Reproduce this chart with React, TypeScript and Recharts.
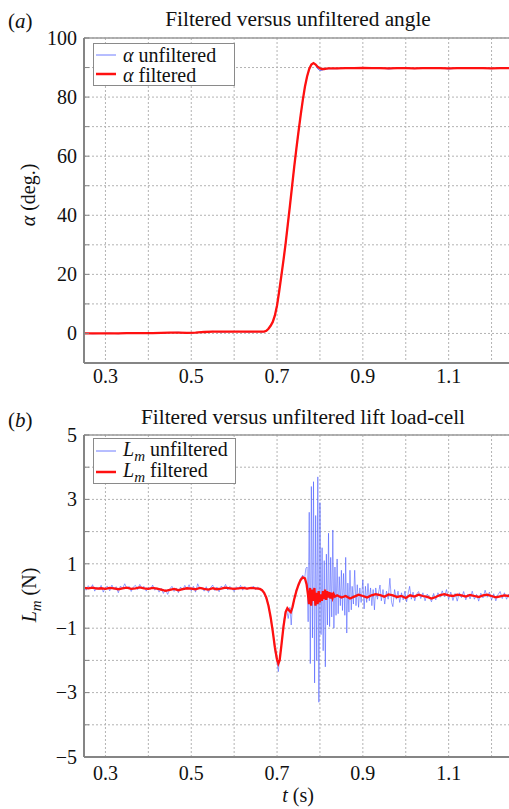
import React from "react";
import { LineChart, Line, XAxis, YAxis, CartesianGrid, ReferenceLine } from "recharts";

// ---------- data: (t [s], value) ----------
const angleUnfiltered: [number, number][] = [
  [0.25, 0.1], [0.27, -0.1], [0.29, 0.0], [0.31, 0.1], [0.33, -0.1], [0.35, 0.2], [0.37, 0.0], [0.39, 0.1],
  [0.41, 0.2], [0.43, 0.1], [0.45, 0.3], [0.47, 0.4], [0.49, 0.2], [0.51, 0.3], [0.53, 0.5], [0.55, 0.7],
  [0.57, 0.5], [0.59, 0.6], [0.61, 0.7], [0.63, 0.5], [0.65, 0.6],
  [0.66, 0.6], [0.665, 0.5], [0.67, 0.6], [0.675, 0.8], [0.68, 1.5], [0.685, 2.7], [0.69, 3.8], [0.695, 6.2],
  [0.7, 9.4], [0.705, 14.4], [0.71, 19.4], [0.715, 24.9], [0.72, 30.4], [0.725, 36.9], [0.73, 43.1], [0.735, 49.9],
  [0.74, 56.3], [0.745, 62.6], [0.75, 68.2], [0.755, 73.9], [0.76, 78.9], [0.765, 83.6], [0.77, 86.9], [0.775, 89.4],
  [0.78, 91.1], [0.785, 91.6], [0.79, 90.7], [0.795, 89.5], [0.8, 89.0], [0.805, 89.1], [0.81, 89.4], [0.815, 89.5],
  [0.82, 89.6],
  [0.84, 89.6], [0.86, 89.9], [0.88, 89.7], [0.9, 90.0], [0.92, 89.7], [0.94, 89.9], [0.96, 89.5], [0.98, 89.8],
  [1.0, 89.9], [1.02, 89.6], [1.04, 89.8], [1.06, 89.7], [1.08, 89.9], [1.1, 89.5], [1.12, 89.8], [1.14, 89.9],
  [1.16, 89.7], [1.18, 89.8], [1.2, 89.6], [1.22, 89.9], [1.24, 89.7], [1.25, 89.8],
];

const angleFiltered: [number, number][] = [
  [0.25, 0.0], [0.27, 0.0], [0.29, 0.0], [0.31, 0.0], [0.33, 0.0], [0.35, 0.1], [0.37, 0.1], [0.39, 0.1],
  [0.41, 0.1], [0.43, 0.2], [0.45, 0.3], [0.47, 0.3], [0.49, 0.2], [0.51, 0.3], [0.53, 0.5], [0.55, 0.6],
  [0.57, 0.6], [0.59, 0.6], [0.61, 0.6], [0.63, 0.6], [0.65, 0.6],
  [0.66, 0.6], [0.665, 0.6], [0.67, 0.6], [0.675, 0.9], [0.68, 1.6], [0.685, 2.6], [0.69, 3.9], [0.695, 6.1],
  [0.7, 9.5], [0.705, 14.3], [0.71, 19.5], [0.715, 24.8], [0.72, 30.5], [0.725, 36.8], [0.73, 43.2], [0.735, 49.8],
  [0.74, 56.4], [0.745, 62.5], [0.75, 68.3], [0.755, 73.8], [0.76, 79.0], [0.765, 83.5], [0.77, 87.0], [0.775, 89.5],
  [0.78, 91.0], [0.785, 91.5], [0.79, 91.0], [0.795, 90.2], [0.8, 89.7], [0.805, 89.5], [0.81, 89.5], [0.815, 89.6],
  [0.82, 89.7],
  [0.84, 89.7], [0.86, 89.8], [0.88, 89.8], [0.9, 89.9], [0.92, 89.8], [0.94, 89.8], [0.96, 89.7], [0.98, 89.8],
  [1.0, 89.8], [1.02, 89.7], [1.04, 89.8], [1.06, 89.8], [1.08, 89.8], [1.1, 89.7], [1.12, 89.8], [1.14, 89.8],
  [1.16, 89.8], [1.18, 89.8], [1.2, 89.7], [1.22, 89.8], [1.24, 89.8], [1.25, 89.8],
];

const liftUnfiltered: [number, number][] = [
  [0.25, 0.30], [0.255, 0.18], [0.26, 0.32], [0.265, 0.22], [0.27, 0.35], [0.275, 0.15], [0.28, 0.28], [0.285, 0.20],
  [0.29, 0.33], [0.295, 0.12], [0.3, 0.27], [0.305, 0.30], [0.31, 0.16], [0.315, 0.34], [0.32, 0.20], [0.325, 0.29],
  [0.33, 0.10], [0.335, 0.31], [0.34, 0.24], [0.345, 0.38], [0.35, 0.22], [0.355, 0.30], [0.36, 0.14], [0.365, 0.28],
  [0.37, 0.33], [0.375, 0.20], [0.38, 0.36], [0.385, 0.25], [0.39, 0.30], [0.395, 0.15], [0.4, 0.27], [0.405, 0.21],
  [0.41, 0.34], [0.415, 0.18], [0.42, 0.26], [0.425, 0.12], [0.43, 0.24], [0.435, 0.08], [0.44, 0.20], [0.445, 0.05],
  [0.45, 0.22], [0.455, 0.30], [0.46, 0.14], [0.465, 0.25], [0.47, 0.10], [0.475, 0.28], [0.48, 0.18], [0.485, 0.33],
  [0.49, 0.21], [0.495, 0.35], [0.5, 0.16], [0.505, 0.30], [0.51, 0.12], [0.515, 0.38], [0.52, 0.22], [0.525, 0.27],
  [0.53, 0.15], [0.535, 0.29], [0.54, 0.11], [0.545, 0.26], [0.55, 0.34], [0.555, 0.17], [0.56, 0.28], [0.565, 0.13],
  [0.57, 0.31], [0.575, 0.24], [0.58, 0.36], [0.585, 0.19], [0.59, 0.30], [0.595, 0.22], [0.6, 0.14], [0.605, 0.29],
  [0.61, 0.21], [0.615, 0.33], [0.62, 0.18], [0.625, 0.30], [0.63, 0.20], [0.635, 0.27], [0.64, 0.23], [0.645, 0.31],
  [0.65, 0.19], [0.655, 0.28], [0.66, 0.22],
  [0.665, 0.20], [0.67, 0.05], [0.675, -0.10], [0.68, -0.25], [0.685, -0.75], [0.69, -1.05], [0.695, -1.70],
  [0.7, -2.05], [0.703, -2.35], [0.706, -1.90], [0.71, -1.60], [0.715, -0.85], [0.718, -0.60], [0.722, -0.40],
  [0.726, -0.70], [0.73, -0.35], [0.733, -0.90], [0.736, -0.25], [0.74, -0.15], [0.745, 0.20], [0.75, 0.30],
  [0.755, 0.55], [0.76, 0.65], [0.764, 0.50], [0.767, 0.85],
  [0.77, 0.9], [0.7725, -0.8], [0.775, 2.6], [0.7775, -2.1], [0.78, 3.4], [0.7825, -1.3], [0.785, 3.55], [0.7875, -2.7],
  [0.79, 2.5], [0.7925, -2.0], [0.795, 3.7], [0.7975, -3.3], [0.8, 2.9], [0.8025, -1.2], [0.805, 1.5], [0.8075, -1.7],
  [0.81, 1.1], [0.8125, -2.2], [0.815, 1.3], [0.8175, -0.9], [0.82, 1.95], [0.8225, -0.95], [0.825, 1.2], [0.8275, -0.65],
  [0.83, 2.05], [0.8325, -1.0], [0.835, 0.9], [0.8375, -0.6], [0.84, 1.15], [0.8425, -0.55], [0.845, 0.6], [0.8475, -0.3],
  [0.85, 0.8], [0.8525, -0.45], [0.855, 0.7], [0.858, -0.6], [0.86, 1.2], [0.8625, -1.15], [0.865, 0.4], [0.8675, -0.5],
  [0.87, 0.8], [0.873, -0.43], [0.875, 0.3], [0.878, -0.25], [0.881, 0.8], [0.884, -0.3],
  [0.887, 0.35], [0.89, -0.35], [0.893, 0.25], [0.896, -0.2], [0.9, 0.5], [0.903, -0.4], [0.906, 0.3], [0.909, -0.2],
  [0.912, 0.39], [0.915, -0.15], [0.918, 0.25], [0.921, -0.3], [0.924, 0.2], [0.927, -0.43], [0.93, 0.25], [0.934, -0.1],
  [0.938, 0.2], [0.94, 0.34], [0.943, -0.15], [0.947, 0.2], [0.951, -0.25], [0.955, 0.15], [0.959, -0.1], [0.963, 0.55],
  [0.967, -0.2], [0.97, -0.33], [0.974, 0.2], [0.978, -0.1], [0.982, 0.15], [0.986, -0.2], [0.99, 0.1], [0.994, -0.12],
  [0.998, 0.15], [1.002, -0.18], [1.006, 0.1], [1.009, 0.3], [1.013, -0.1], [1.017, 0.12], [1.021, -0.15], [1.025, 0.05],
  [1.03, 0.14], [1.035, -0.08], [1.04, 0.10], [1.045, -0.15], [1.05, 0.06], [1.055, -0.05], [1.06, -0.18], [1.065, 0.08],
  [1.07, -0.12], [1.075, 0.10], [1.08, -0.04], [1.085, 0.16], [1.09, -0.02], [1.095, 0.20], [1.1, -0.10], [1.105, 0.12],
  [1.11, -0.14], [1.115, 0.08], [1.12, -0.16], [1.125, 0.10], [1.13, -0.05], [1.135, 0.14], [1.14, -0.12], [1.145, 0.06],
  [1.15, -0.09], [1.155, 0.15], [1.16, -0.10], [1.165, 0.05], [1.17, -0.16], [1.175, 0.09], [1.18, -0.06], [1.185, 0.18],
  [1.19, -0.04], [1.195, 0.12], [1.2, -0.12], [1.205, 0.07], [1.21, -0.15], [1.215, 0.04], [1.22, 0.14], [1.225, -0.08],
  [1.23, 0.10], [1.235, -0.10], [1.24, 0.06], [1.245, -0.05], [1.25, 0.08],
];

const liftFiltered: [number, number][] = [
  [0.25, 0.25], [0.26, 0.24], [0.27, 0.26], [0.28, 0.23], [0.29, 0.24], [0.3, 0.22], [0.31, 0.25], [0.32, 0.24],
  [0.33, 0.21], [0.34, 0.24], [0.35, 0.26], [0.36, 0.22], [0.37, 0.24], [0.38, 0.27], [0.39, 0.24], [0.4, 0.22],
  [0.41, 0.25], [0.42, 0.23], [0.43, 0.20], [0.44, 0.16], [0.45, 0.19], [0.46, 0.22], [0.47, 0.18], [0.48, 0.21],
  [0.49, 0.24], [0.5, 0.23], [0.51, 0.21], [0.52, 0.25], [0.53, 0.22], [0.54, 0.20], [0.55, 0.24], [0.56, 0.21],
  [0.57, 0.23], [0.58, 0.26], [0.59, 0.24], [0.6, 0.22], [0.61, 0.24], [0.62, 0.25], [0.63, 0.23], [0.64, 0.25],
  [0.65, 0.24], [0.66, 0.22],
  [0.665, 0.18], [0.67, 0.10], [0.675, -0.05], [0.68, -0.30], [0.685, -0.65], [0.69, -1.10], [0.695, -1.60],
  [0.7, -1.98], [0.703, -2.10], [0.706, -2.00], [0.71, -1.55], [0.715, -0.95], [0.72, -0.50], [0.724, -0.38],
  [0.728, -0.45], [0.732, -0.50], [0.736, -0.35], [0.74, -0.10], [0.745, 0.15], [0.75, 0.35], [0.755, 0.50],
  [0.76, 0.58], [0.765, 0.55], [0.769, 0.35], [0.772, 0.05],
  [0.7745, -0.25], [0.777, 0.25], [0.7795, -0.30], [0.782, 0.20], [0.7845, -0.15], [0.787, 0.25], [0.7895, -0.30],
  [0.792, 0.10], [0.7945, -0.25], [0.797, 0.15], [0.7995, -0.20], [0.802, 0.05], [0.8045, -0.15], [0.807, 0.15],
  [0.8095, -0.10], [0.812, 0.20], [0.8145, -0.12], [0.817, 0.15], [0.8195, -0.05], [0.822, 0.12], [0.8245, -0.08],
  [0.827, 0.10], [0.8295, -0.05], [0.832, 0.06], [0.835, -0.02], [0.84, 0.02],
  [0.85, -0.05], [0.86, 0.00], [0.87, -0.08], [0.88, -0.02], [0.89, 0.04], [0.9, 0.00], [0.91, -0.05], [0.92, 0.02],
  [0.93, 0.06], [0.94, 0.03], [0.95, -0.02], [0.96, 0.05], [0.97, 0.02], [0.98, -0.03], [0.99, 0.00], [1.0, -0.06],
  [1.01, 0.02], [1.02, -0.02], [1.03, 0.04], [1.04, 0.00], [1.05, -0.03], [1.06, -0.08], [1.07, -0.03], [1.08, 0.03],
  [1.09, 0.06], [1.1, 0.02], [1.11, 0.00], [1.12, 0.04], [1.13, 0.02], [1.14, -0.02], [1.15, 0.03], [1.16, 0.00],
  [1.17, -0.03], [1.18, 0.02], [1.19, 0.04], [1.2, 0.00], [1.21, -0.04], [1.22, -0.01], [1.23, 0.02], [1.24, 0.00],
  [1.25, 0.01],
];

const xGridTicks = [0.3, 0.4, 0.5, 0.6, 0.7, 0.8, 0.9, 1.0, 1.1, 1.2];
const xTickLabels = ["0.3", "0.5", "0.7", "0.9", "1.1"];
const angleTicks = [-10, 0, 10, 20, 30, 40, 50, 60, 70, 80, 90, 100];
const angleTickLabels: Record<string, string> = { "0": "0", "20": "20", "40": "40", "60": "60", "80": "80", "100": "100" };
const liftTicks = [-5, -4, -3, -2, -1, 0, 1, 2, 3, 4, 5];
const liftTickLabels: Record<string, string> = { "5": "5", "3": "3", "1": "1", "-1": "\u22121", "-3": "\u22123", "-5": "\u22125" };

// ---------- styling ----------
const FONT = '"Liberation Serif", "Times New Roman", serif';
const TXT: React.CSSProperties = { fontFamily: FONT };
const BLUE = "#3f52ff";
const RED = "#ff1010";
const AXIS = "#858585";

const rows = (pairs: [number, number][]) => pairs.map(([t, v]) => ({ t, v }));

const makeXTick = (dy: number) => (props: any) => {
  const { x, y, payload } = props;
  const txt = Number(payload.value).toFixed(1);
  if (!xTickLabels.includes(txt)) return <g />;
  return (
    <text x={x} y={y + dy} textAnchor="middle" style={{ ...TXT, fontSize: 20 }} fill="#111">
      {txt}
    </text>
  );
};

const makeYTick = (labels: Record<string, string>) => (props: any) => {
  const { x, y, payload } = props;
  const lab = labels[String(payload.value)];
  return (
    <g>
      <line x1={x + 7} x2={x + 12} y1={y} y2={y} stroke={AXIS} strokeWidth={1} />
      {lab !== undefined && (
        <text x={x} y={y} dy="0.34em" textAnchor="end" style={{ ...TXT, fontSize: 20 }} fill="#111">
          {lab}
        </text>
      )}
    </g>
  );
};

const angleUnfRows = rows(angleUnfiltered);
const angleFilRows = rows(angleFiltered);
const liftUnfRows = rows(liftUnfiltered);
const liftFilRows = rows(liftFiltered);

const Sub = ({ children }: { children: string }) => (
  <>
    <tspan style={{ ...TXT, fontStyle: "italic" }}>L</tspan>
    <tspan style={{ ...TXT, fontStyle: "italic", fontSize: 15 }} dy={5}>m</tspan>
    <tspan style={TXT} dy={-5}>{children}</tspan>
  </>
);

export default function App() {
  return (
    <div style={{ position: "absolute", left: 0, top: 0, width: 509, height: 809, overflow: "hidden", background: "#fff", fontFamily: FONT }}>
      {/* (a) angle chart */}
      <div style={{ position: "absolute", left: 0, top: 0 }}>
        <LineChart width={520} height={400} margin={{ top: 38, right: 7, bottom: 0, left: 0 }}>
          <CartesianGrid stroke="#b3b3b3" strokeDasharray="2 2" />
          <XAxis
            dataKey="t"
            type="number"
            domain={[0.25, 1.25]}
            allowDataOverflow
            ticks={xGridTicks}
            interval={0}
            height={37}
            tickSize={0}
            tickMargin={0}
            tickLine={false}
            axisLine={{ stroke: AXIS, strokeWidth: 2 }}
            tick={makeXTick(20)}
          />
          <YAxis
            type="number"
            domain={[-10, 100]}
            allowDataOverflow
            ticks={angleTicks}
            interval={0}
            width={84}
            tickSize={0}
            tickMargin={7}
            tickLine={false}
            axisLine={{ stroke: AXIS, strokeWidth: 2 }}
            tick={makeYTick(angleTickLabels)}
          />
          <ReferenceLine y={100} stroke="#9a9a9a" strokeWidth={1.5} />
          <Line data={angleUnfRows} dataKey="v" type="linear" stroke={BLUE} strokeWidth={1} strokeOpacity={0.75} dot={false} isAnimationActive={false} />
          <Line data={angleFilRows} dataKey="v" type="linear" stroke={RED} strokeWidth={2.3} dot={false} isAnimationActive={false} />
        </LineChart>
      </div>

      {/* (b) lift chart */}
      <div style={{ position: "absolute", left: 0, top: 400 }}>
        <LineChart width={520} height={409} margin={{ top: 35, right: 7, bottom: 0, left: 0 }}>
          <CartesianGrid stroke="#b3b3b3" strokeDasharray="2 2" />
          <XAxis
            dataKey="t"
            type="number"
            domain={[0.25, 1.25]}
            allowDataOverflow
            ticks={xGridTicks}
            interval={0}
            height={52}
            tickSize={0}
            tickMargin={0}
            tickLine={false}
            axisLine={{ stroke: AXIS, strokeWidth: 2 }}
            tick={makeXTick(23)}
          />
          <YAxis
            type="number"
            domain={[-5, 5]}
            allowDataOverflow
            ticks={liftTicks}
            interval={0}
            width={84}
            tickSize={0}
            tickMargin={7}
            tickLine={false}
            axisLine={{ stroke: AXIS, strokeWidth: 2 }}
            tick={makeYTick(liftTickLabels)}
          />
          <ReferenceLine y={5} stroke="#9a9a9a" strokeWidth={1.5} />
          <Line data={liftUnfRows} dataKey="v" type="linear" stroke={BLUE} strokeWidth={0.9} strokeOpacity={0.6} dot={false} isAnimationActive={false} />
          <Line data={liftFilRows} dataKey="v" type="linear" stroke={RED} strokeWidth={2.3} dot={false} isAnimationActive={false} />
        </LineChart>
      </div>

      {/* titles, labels, legends */}
      <svg width={509} height={809} style={{ position: "absolute", left: 0, top: 0, pointerEvents: "none" }} fill="#111">
        <text x={8} y={28} style={{ ...TXT, fontSize: 21 }}>(<tspan style={{ ...TXT, fontStyle: "italic" }}>a</tspan>)</text>
        <text x={298} y={26} textAnchor="middle" style={{ ...TXT, fontSize: 21.3 }}>Filtered versus unfiltered angle</text>
        <text transform="translate(35,195) rotate(-90)" textAnchor="middle" style={{ ...TXT, fontSize: 20 }}>
          <tspan style={{ ...TXT, fontStyle: "italic" }}>α</tspan><tspan style={TXT}> (deg.)</tspan>
        </text>

        <rect x={93.5} y={43.5} width={141} height={42} fill="#fff" stroke="#8a8a8a" strokeWidth={1} />
        <line x1={96} x2={116} y1={55} y2={55} stroke={BLUE} strokeWidth={1} strokeOpacity={0.75} />
        <line x1={96} x2={116} y1={74} y2={74} stroke={RED} strokeWidth={2.5} />
        <text x={123} y={61.5} style={{ ...TXT, fontSize: 20 }}>
          <tspan style={{ ...TXT, fontStyle: "italic" }}>α</tspan><tspan style={TXT}> unfiltered</tspan>
        </text>
        <text x={123} y={82} style={{ ...TXT, fontSize: 20 }}>
          <tspan style={{ ...TXT, fontStyle: "italic" }}>α</tspan><tspan style={TXT}> filtered</tspan>
        </text>

        <text x={8} y={427} style={{ ...TXT, fontSize: 21 }}>(<tspan style={{ ...TXT, fontStyle: "italic" }}>b</tspan>)</text>
        <text x={303} y={424} textAnchor="middle" style={{ ...TXT, fontSize: 21.3 }}>Filtered versus unfiltered lift load-cell</text>
        <text transform="translate(36,595) rotate(-90)" textAnchor="middle" style={{ ...TXT, fontSize: 20 }}>
          <Sub>{" (N)"}</Sub>
        </text>

        <rect x={93.5} y={438.5} width={142} height={45} fill="#fff" stroke="#8a8a8a" strokeWidth={1} />
        <line x1={96} x2={116} y1={451} y2={451} stroke={BLUE} strokeWidth={1} strokeOpacity={0.75} />
        <line x1={96} x2={116} y1={472} y2={472} stroke={RED} strokeWidth={2.5} />
        <text x={123} y={456} style={{ ...TXT, fontSize: 20 }}>
          <Sub>{" unfiltered"}</Sub>
        </text>
        <text x={123} y={477} style={{ ...TXT, fontSize: 20 }}>
          <Sub>{" filtered"}</Sub>
        </text>

        <text x={298} y={802} textAnchor="middle" style={{ ...TXT, fontSize: 20 }}>
          <tspan style={{ ...TXT, fontStyle: "italic" }}>t</tspan><tspan style={TXT}> (s)</tspan>
        </text>
      </svg>
    </div>
  );
}
